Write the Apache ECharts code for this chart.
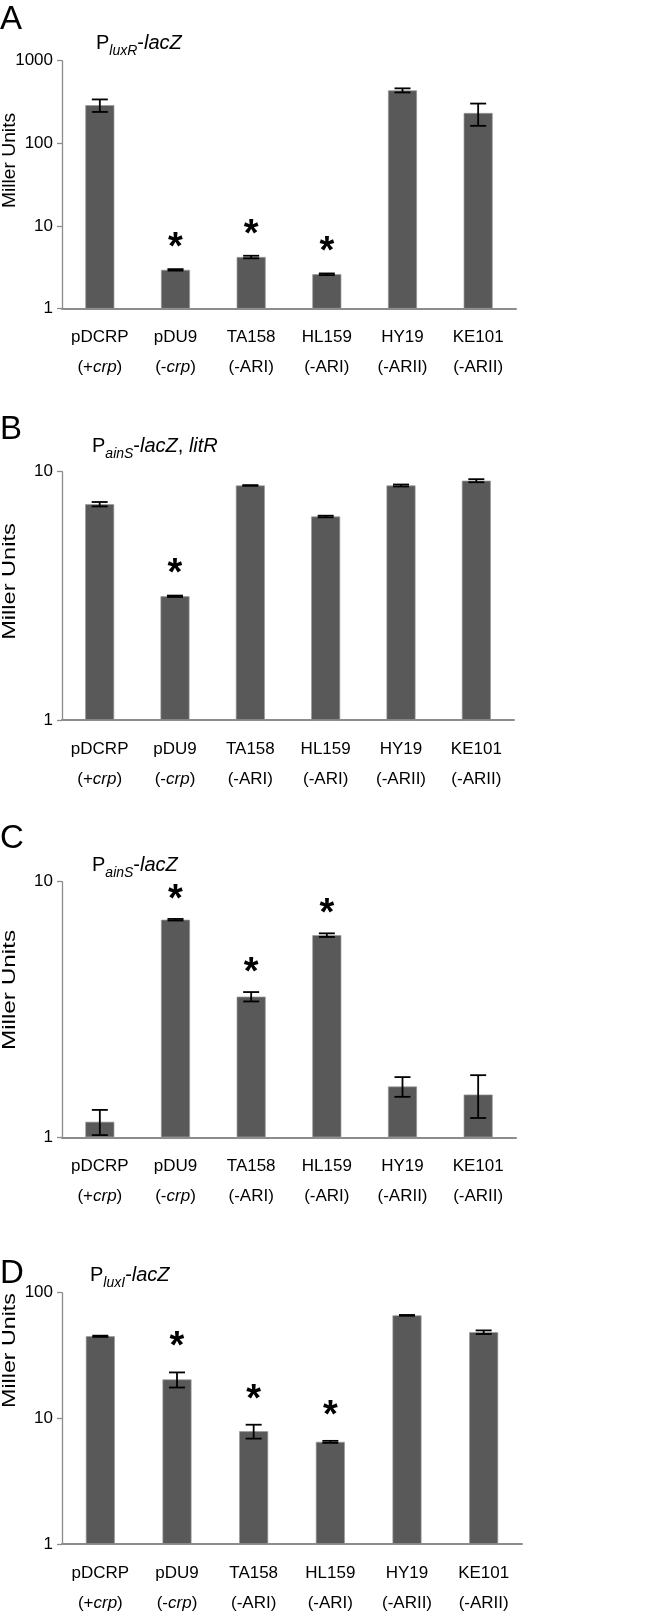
<!DOCTYPE html>
<html><head><meta charset="utf-8">
<script src="https://cdn.jsdelivr.net/npm/echarts@6/dist/echarts.min.js"></script>
<style>html,body{margin:0;padding:0;background:#fff}#c{width:666px;height:1618px}</style>
</head><body><div id="c"></div>
<script>
// ---- data ----
const categories = ['pDCRP', 'pDU9', 'TA158', 'HL159', 'HY19', 'KE101'];
const genotypes = ['(+{i|crp})', '(-{i|crp})', '(-ARI)', '(-ARI)', '(-ARII)', '(-ARII)'];

const luxRMeans = [290, 2.95, 4.22, 2.61, 438, 233];
const luxRErrors = [50, 0.06, 0.15, 0.06, 25, 70];
const luxRSignificant = [false, true, true, true, false, false];

const ainSLitRMeans = [7.4, 3.15, 8.8, 6.6, 8.8, 9.2];
const ainSLitRErrors = [0.15, 0.02, 0.03, 0.05, 0.08, 0.13];
const ainSLitRSignificant = [false, true, false, false, false, false];

const ainSMeans = [1.15, 7.1, 3.55, 6.18, 1.58, 1.47];
const ainSErrors = [0.13, 0.05, 0.15, 0.1, 0.14, 0.28];
const ainSSignificant = [false, true, true, true, false, false];

const luxIMeans = [45, 20.4, 7.9, 6.5, 66, 48.5];
const luxIErrors = [0.5, 2.8, 1.0, 0.12, 0.5, 1.6];
const luxISignificant = [false, true, true, true, false, false];

const yAxisMax = [1000, 10, 10, 100];
const panelLetters = ['A', 'B', 'C', 'D'];
const panelTitles = [
  '{m|P}{s|luxR}{m|-}{i|lacZ}',
  '{m|P}{s|ainS}{m|-}{i|lacZ}{m|, }{i|litR}',
  '{m|P}{s|ainS}{m|-}{i|lacZ}',
  '{m|P}{s|luxI}{m|-}{i|lacZ}'
];
const yAxisTitle = 'Miller Units';

// ---- layout / style ----
const FONT = 'Liberation Sans, Arial, sans-serif';
const layout = [
  { top: 60.7, height: 248, width: 454, letterY: 20, titleX: 96, titleY: 43.5, labelY: 160.5, labelScale: 1.07, star: 29 },
  { top: 471.7, height: 248.3, width: 452, letterY: 430, titleX: 92, titleY: 446.5, labelY: 581.5, labelScale: 1.31, star: 29 },
  { top: 881.7, height: 255.6, width: 454, letterY: 839, titleX: 92, titleY: 865, labelY: 990, labelScale: 1.35, star: 27 },
  { top: 1292.7, height: 254.6, width: 460, letterY: 1274, titleX: 90, titleY: 1275, labelY: 1350.5, labelScale: 1.29, star: 33 }
];
const panelData = [
  [luxRMeans, luxRErrors, luxRSignificant],
  [ainSLitRMeans, ainSLitRErrors, ainSLitRSignificant],
  [ainSMeans, ainSErrors, ainSSignificant],
  [luxIMeans, luxIErrors, luxISignificant]
];

const grids = [], xAxes = [], yAxes = [], series = [], graphics = [];
const axisGray = '#8c8c8c';
const LABEL_FS = 17;

panelData.forEach(([means, errs, sig], p) => {
  const L = layout[p];
  grids.push({ left: 62, width: L.width, top: L.top, height: L.height });
  xAxes.push({
    type: 'category', gridIndex: p, data: categories,
    axisLine: { show: true, lineStyle: { color: axisGray, width: 2 } },
    axisTick: { show: false },
    axisLabel: {
      interval: 0, margin: 14, color: '#000', fontSize: LABEL_FS, fontFamily: FONT, lineHeight: 30,
      formatter: (v, idx) => v + '\n' + genotypes[idx],
      rich: { i: { fontStyle: 'italic', fontSize: LABEL_FS, fontFamily: FONT, lineHeight: 30, color: '#000' } }
    }
  });
  yAxes.push({
    type: 'log', logBase: 10, gridIndex: p, min: 1, max: yAxisMax[p],
    axisLine: { show: true, lineStyle: { color: axisGray, width: 1.3 } },
    axisTick: { show: true, length: 5, lineStyle: { color: axisGray, width: 1.3 } },
    minorTick: { show: false },
    splitLine: { show: false },
    axisLabel: { color: '#000', fontSize: LABEL_FS, fontFamily: FONT, margin: 9,
      formatter: v => String(Math.round(v)) }
  });
  series.push({
    type: 'bar', xAxisIndex: p, yAxisIndex: p, data: means, barWidth: 29, z: 2,
    itemStyle: { color: '#595959', borderColor: '#9a9a9a', borderWidth: 0.7 },
    silent: true
  });
  series.push({
    type: 'custom', xAxisIndex: p, yAxisIndex: p, silent: true, z: 10,
    data: means.map((m, i) => [i, m - errs[i], m + errs[i]]),
    encode: { x: 0, y: [1, 2] },
    renderItem: (params, api) => {
      const i = api.value(0);
      const hi = api.coord([i, api.value(2)]);
      const lo = api.coord([i, api.value(1)]);
      const cx = hi[0], w = 8;
      const st = { stroke: '#000', lineWidth: 1.8 };
      return { type: 'group', children: [
        { type: 'line', shape: { x1: cx, y1: hi[1], x2: cx, y2: lo[1] }, style: st },
        { type: 'line', shape: { x1: cx - w, y1: hi[1], x2: cx + w, y2: hi[1] }, style: st },
        { type: 'line', shape: { x1: cx - w, y1: lo[1], x2: cx + w, y2: lo[1] }, style: st }
      ] };
    }
  });
  series.push({
    type: 'custom', xAxisIndex: p, yAxisIndex: p, silent: true, z: 10,
    data: means.map((m, i) => [i, m + errs[i], sig[i] ? 1 : 0]).filter(d => d[2] === 1),
    encode: { x: 0, y: 1 },
    renderItem: (params, api) => {
      const pt = api.coord([api.value(0), api.value(1)]);
      const fs = 38;
      return { type: 'text', x: pt[0], y: pt[1] - L.star + 0.22 * fs,
        style: { text: '*', fontSize: fs, fontWeight: 'bold', fontFamily: FONT, fill: '#000',
          align: 'center', verticalAlign: 'middle' } };
    }
  });
  graphics.push({ type: 'text', x: 0, y: L.letterY, silent: true,
    style: { text: panelLetters[p], fontSize: 33, fontFamily: FONT, fill: '#000', align: 'left', verticalAlign: 'middle' } });
  graphics.push({ type: 'text', x: L.titleX, y: L.titleY, silent: true,
    style: { text: panelTitles[p], fontSize: 20, fontFamily: FONT, fill: '#000', align: 'left', verticalAlign: 'middle',
      rich: {
        m: { fontSize: 20, fontFamily: FONT, fill: '#000' },
        i: { fontSize: 20, fontFamily: FONT, fontStyle: 'italic', fill: '#000' },
        s: { fontSize: 14, fontFamily: FONT, fontStyle: 'italic', fill: '#000', padding: [16, 0, 0, 0] }
      } } });
  graphics.push({ type: 'text', x: 10, y: L.labelY, rotation: Math.PI / 2, scaleX: L.labelScale, silent: true,
    style: { text: yAxisTitle, fontSize: 18, fontFamily: FONT, fill: '#000', align: 'center', verticalAlign: 'middle' } });
});

const chart = echarts.init(document.getElementById('c'), null, { renderer: 'canvas' });
chart.setOption({
  animation: false,
  backgroundColor: '#fff',
  grid: grids, xAxis: xAxes, yAxis: yAxes, series: series, graphic: graphics
});
</script></body></html>
